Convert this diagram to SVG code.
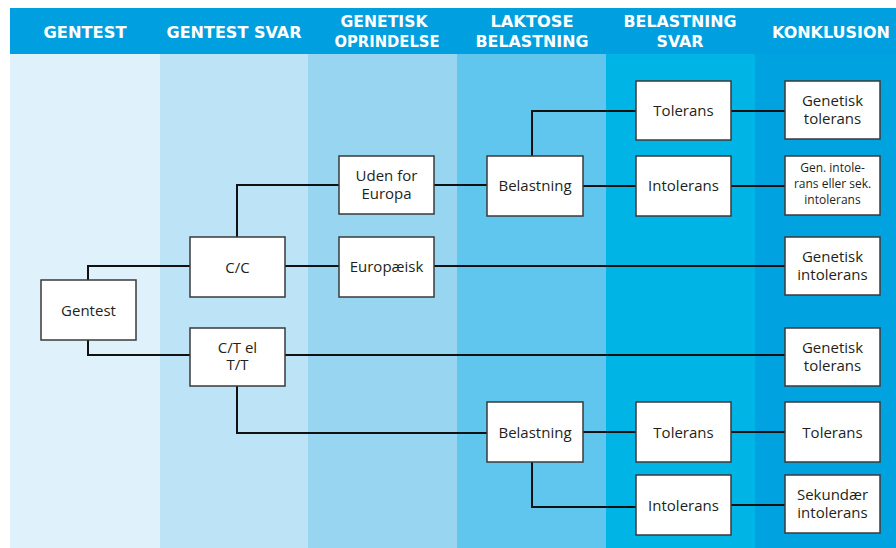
<svg xmlns="http://www.w3.org/2000/svg" width="896" height="548" viewBox="0 0 896 548">
<style>
.hd{font-family:"DejaVu Sans","Liberation Sans",sans-serif;font-weight:bold;font-size:15.5px;fill:#fff;text-anchor:middle}
.box{fill:#fff;stroke:#3a3a3a;stroke-width:1.5}
.t{font-family:"Open Sans","Noto Sans",sans-serif;font-size:15px;fill:#231f20;text-anchor:middle}
.ts{font-family:"Open Sans","Noto Sans",sans-serif;font-size:12px;fill:#231f20;text-anchor:middle}
.ln{fill:none;stroke:#111;stroke-width:2}
</style>
<rect x="0" y="0" width="896" height="548" fill="#fff"/>
<g id="columns">
<rect x="10" y="54" width="150" height="494" fill="#DFF1FB"/>
<rect x="160" y="54" width="148" height="494" fill="#BDE3F6"/>
<rect x="308" y="54" width="149" height="494" fill="#97D5F1"/>
<rect x="457" y="54" width="149" height="494" fill="#60C6ED"/>
<rect x="606" y="54" width="149" height="494" fill="#00B4E6"/>
<rect x="755" y="54" width="141" height="494" fill="#00A2E0"/>
</g>
<g id="header">
<rect x="10" y="8" width="886" height="46" fill="#009FDF"/>
<text class="hd" x="85" y="38" textLength="83" lengthAdjust="spacingAndGlyphs">GENTEST</text>
<text class="hd" x="234" y="38" textLength="135" lengthAdjust="spacingAndGlyphs">GENTEST SVAR</text>
<text class="hd" x="384" y="27" textLength="87" lengthAdjust="spacingAndGlyphs">GENETISK</text>
<text class="hd" x="387" y="47" textLength="105" lengthAdjust="spacingAndGlyphs">OPRINDELSE</text>
<text class="hd" x="532" y="27" textLength="83" lengthAdjust="spacingAndGlyphs">LAKTOSE</text>
<text class="hd" x="532" y="47" textLength="113" lengthAdjust="spacingAndGlyphs">BELASTNING</text>
<text class="hd" x="680" y="27" textLength="113" lengthAdjust="spacingAndGlyphs">BELASTNING</text>
<text class="hd" x="680" y="47" textLength="47" lengthAdjust="spacingAndGlyphs">SVAR</text>
<text class="hd" x="831" y="38" textLength="118" lengthAdjust="spacingAndGlyphs">KONKLUSION</text>
</g>
<g id="connectors">
<path class="ln" d="M88,280 V266 H190"/>
<path class="ln" d="M88,340 V355 H190"/>
<path class="ln" d="M237,237 V185 H339"/>
<path class="ln" d="M285,266 H339"/>
<path class="ln" d="M434,266 H785"/>
<path class="ln" d="M285,355 H785"/>
<path class="ln" d="M237,386 V433 H487"/>
<path class="ln" d="M434,185 H487"/>
<path class="ln" d="M532,156 V111 H636"/>
<path class="ln" d="M583,186 H636"/>
<path class="ln" d="M731,111 H785"/>
<path class="ln" d="M731,186 H785"/>
<path class="ln" d="M583,432 H636"/>
<path class="ln" d="M532,462 V507 H636"/>
<path class="ln" d="M731,432 H785"/>
<path class="ln" d="M731,505 H785"/>
</g>
<g id="n-gentest"><rect class="box" x="41" y="280" width="95" height="60"/><text class="t" x="88.5" y="316">Gentest</text></g>
<g id="n-cc"><rect class="box" x="190" y="237" width="95" height="60"/><text class="t" x="237.5" y="273">C/C</text></g>
<g id="n-ct"><rect class="box" x="190" y="328" width="95" height="58"/><text class="t" x="237.5" y="353">C/T el</text><text class="t" x="237.5" y="370">T/T</text></g>
<g id="n-uden"><rect class="box" x="339" y="156" width="95" height="58"/><text class="t" x="386.5" y="181">Uden for</text><text class="t" x="386.5" y="199">Europa</text></g>
<g id="n-europ"><rect class="box" x="339" y="237" width="95" height="60"/><text class="t" x="386.5" y="272">Europæisk</text></g>
<g id="n-bel1"><rect class="box" x="487" y="156" width="96" height="60"/><text class="t" x="535" y="191">Belastning</text></g>
<g id="n-bel2"><rect class="box" x="487" y="402" width="96" height="60"/><text class="t" x="535" y="438">Belastning</text></g>
<g id="n-tol1"><rect class="box" x="636" y="81" width="95" height="59"/><text class="t" x="683.5" y="116">Tolerans</text></g>
<g id="n-intol1"><rect class="box" x="636" y="156" width="95" height="60"/><text class="t" x="683.5" y="191">Intolerans</text></g>
<g id="n-tol2"><rect class="box" x="636" y="402" width="95" height="60"/><text class="t" x="683.5" y="438">Tolerans</text></g>
<g id="n-intol2"><rect class="box" x="636" y="475" width="95" height="60"/><text class="t" x="683.5" y="511">Intolerans</text></g>
<g id="n-gentol1"><rect class="box" x="785" y="81" width="95" height="58"/><text class="t" x="832.5" y="106">Genetisk</text><text class="t" x="832.5" y="124">tolerans</text></g>
<g id="n-genintsek"><rect class="box" x="785" y="156" width="95" height="59"/><text class="ts" x="832.5" y="172">Gen. intole-</text><text class="ts" x="832.5" y="188">rans eller sek.</text><text class="ts" x="832.5" y="204">intolerans</text></g>
<g id="n-genint"><rect class="box" x="785" y="237" width="95" height="58"/><text class="t" x="832.5" y="262">Genetisk</text><text class="t" x="832.5" y="280">intolerans</text></g>
<g id="n-gentol2"><rect class="box" x="785" y="328" width="95" height="58"/><text class="t" x="832.5" y="353">Genetisk</text><text class="t" x="832.5" y="371">tolerans</text></g>
<g id="n-tol3"><rect class="box" x="785" y="402" width="95" height="60"/><text class="t" x="832.5" y="438">Tolerans</text></g>
<g id="n-sek"><rect class="box" x="785" y="475" width="95" height="58"/><text class="t" x="832.5" y="500">Sekundær</text><text class="t" x="832.5" y="518">intolerans</text></g>
</svg>
